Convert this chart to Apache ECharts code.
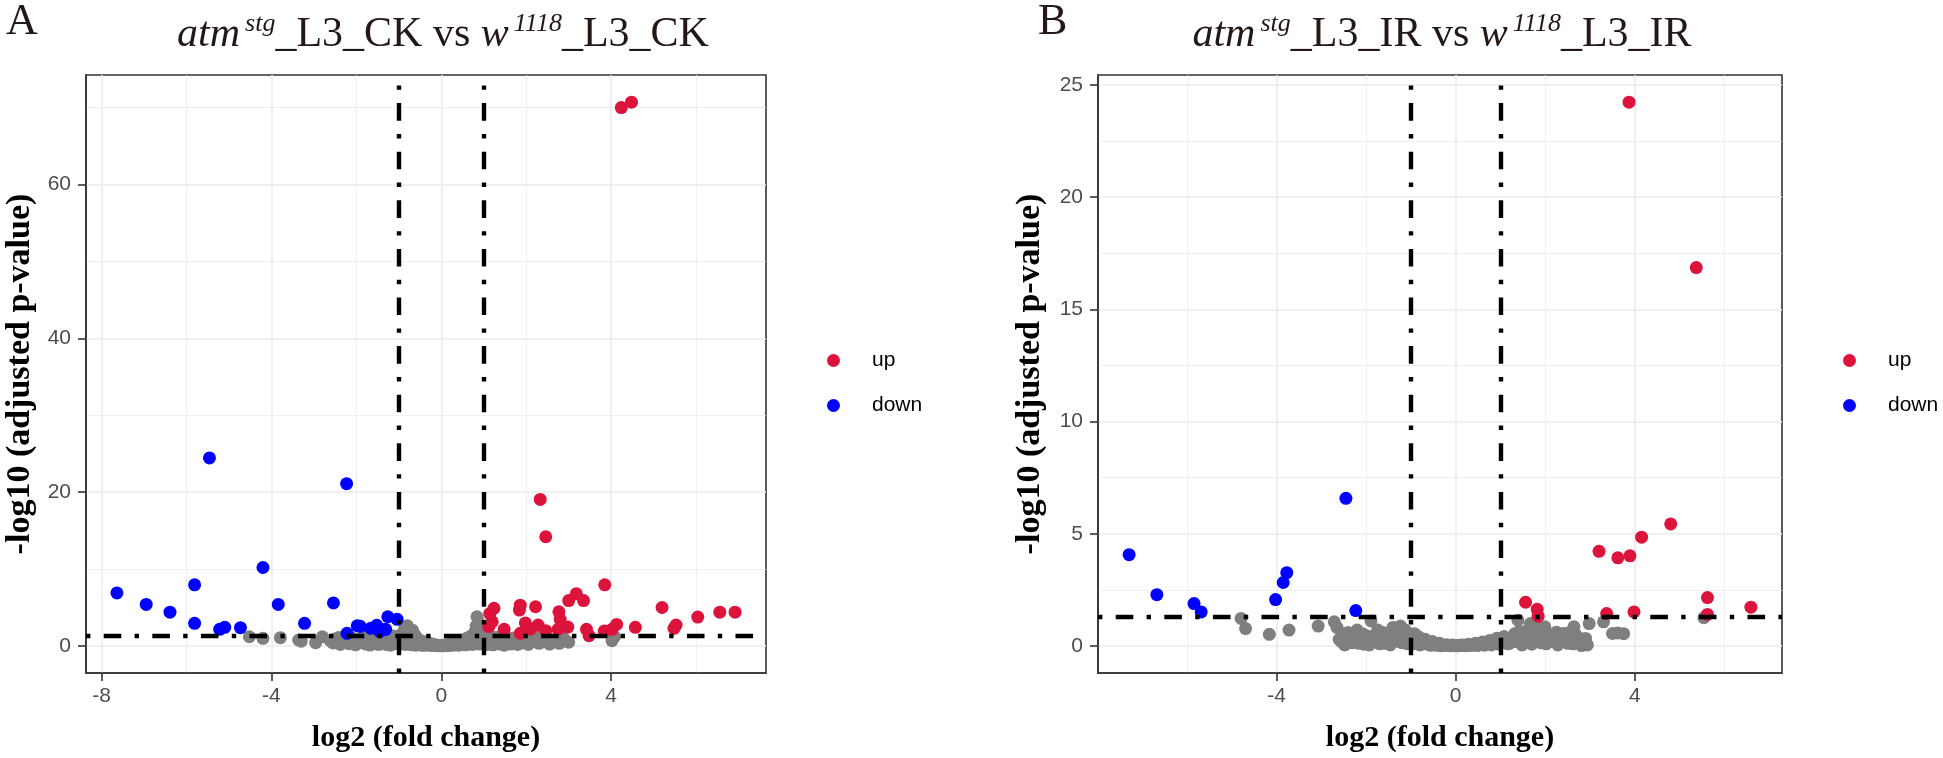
<!DOCTYPE html>
<html>
<head>
<meta charset="utf-8">
<script src="https://cdn.jsdelivr.net/npm/echarts@6/dist/echarts.min.js"></script>
<style>html,body{margin:0;padding:0;background:#fff}#c{width:1943px;height:758px}</style>
</head>
<body>
<div id="c"></div>
<script>
// ---------- Panel A data: [log2FC, -log10 padj] ----------
const aUp = [[4.24,70.0],[4.48,70.7],[2.33,19.05],[2.46,14.2],[3.85,7.95],[3.18,6.8],[3.0,5.9],[3.35,5.9],[1.86,5.3],[1.84,4.67],[2.22,5.1],[1.24,4.9],[1.14,4.2],[2.77,4.45],[2.8,3.46],[5.2,5.0],[6.56,4.4],[6.92,4.4],[6.04,3.76],[5.53,2.72],[5.48,2.29],[4.57,2.42],[4.13,2.8],[4.02,2.16],[3.84,1.94],[3.42,2.16],[3.48,1.34],[2.98,2.46],[2.75,2.16],[2.46,1.99],[1.98,3.0],[2.28,2.72],[1.48,2.16],[1.2,3.15],[1.86,1.64],[1.12,2.5],[2.1,2.2]];
const aDown = [[-7.64,6.9],[-6.95,5.4],[-6.39,4.4],[-5.81,7.95],[-5.81,2.94],[-5.46,24.45],[-5.22,2.16],[-5.1,2.42],[-4.73,2.38],[-4.2,10.2],[-3.84,5.4],[-3.22,2.94],[-2.54,5.6],[-2.23,21.1],[-2.22,1.64],[-1.98,2.63],[-1.91,2.55],[-1.66,2.29],[-1.52,2.68],[-1.26,3.8],[-1.04,3.46],[-1.31,2.16],[-1.45,1.9]];
const aNo = [[-4.52,1.2],[-4.2,1.0],[-3.79,1.08],[-3.36,0.78],[-3.3,0.62],[-2.96,0.43],[-2.8,1.2],[-2.62,0.72],[-2.46,0.56],[-2.35,0.35],[-2.3,0.65],[-2.2,0.92],[-2.12,0.48],[-2.05,0.3],[-2.0,0.8],[-1.92,0.42],[-1.85,1.12],[-1.78,0.25],[-1.72,0.62],[-1.65,0.95],[-1.58,0.38],[-1.52,0.52],[-1.46,1.22],[-1.4,0.28],[-1.34,0.72],[-1.28,0.18],[-1.22,1.02],[-1.17,0.42],[-1.12,1.3],[-1.07,0.62],[-1.02,0.88],[-0.98,0.22],[-0.94,1.52],[-0.9,0.45],[-0.86,2.3],[-0.82,1.05],[-0.8,2.62],[-0.76,1.18],[-0.72,0.38],[-0.68,2.05],[-0.65,0.72],[-0.62,1.42],[-0.58,0.25],[-0.55,0.92],[-0.51,0.48],[-0.47,0.12],[-0.44,0.62],[-0.4,0.3],[-0.36,0.15],[-0.32,0.45],[-0.28,0.08],[-0.24,0.28],[-0.2,0.05],[-0.16,0.18],[-0.12,0.04],[-0.08,0.1],[-0.04,0.02],[0,0.05],[0.04,0.02],[0.08,0.12],[0.12,0.04],[0.16,0.2],[0.2,0.06],[0.24,0.3],[0.28,0.1],[0.32,0.42],[0.36,0.15],[0.4,0.55],[0.44,0.22],[0.48,0.7],[0.52,0.32],[0.56,0.9],[0.6,0.4],[0.64,1.1],[0.68,0.5],[0.72,1.35],[0.76,0.62],[0.8,1.9],[0.82,2.6],[0.84,3.8],[0.86,1.05],[0.88,3.1],[0.9,1.5],[0.93,0.72],[0.96,2.2],[0.99,0.35],[1.02,1.25],[1.06,0.55],[1.1,1.05],[1.15,0.3],[1.2,0.82],[1.26,0.5],[1.32,1.15],[1.38,0.25],[1.45,0.7],[1.52,0.45],[1.6,0.95],[1.68,0.3],[1.76,0.62],[1.84,1.1],[1.92,0.4],[2.0,0.78],[2.1,0.52],[2.2,0.95],[2.3,0.35],[2.4,0.7],[2.46,0.56],[2.6,0.42],[2.72,0.88],[2.82,0.6],[2.92,0.69],[4.02,0.69],[4.08,1.2],
  [-2.55,0.4],[-2.5,0.9],[-2.42,1.1],[-2.38,0.2],[-2.27,1.15],[-2.18,0.3],[-2.1,1.05],[-2.02,0.15],[-1.95,0.65],[-1.88,0.9],[-1.8,0.45],[-1.75,1.25],[-1.68,0.12],[-1.62,0.75],[-1.55,1.05],[-1.48,0.2],[-1.42,0.6],[-1.36,1.0],[-1.3,0.45],[-1.25,0.8],[-1.2,0.1],[-1.14,0.68],[-1.09,0.3],[-1.04,1.15],[-1.0,0.5],[-0.96,0.75],[-0.92,1.25],[-0.88,0.6],[-0.84,0.2],[-0.78,0.85],[-0.74,1.6],[-0.7,0.15],[-0.66,0.55],[-0.6,0.1],[-0.56,0.4],[-0.5,0.18],[-0.45,0.3],[-0.42,0.08],[-0.34,0.32],[-0.26,0.2],[-0.18,0.12],[-0.1,0.06],[-0.02,0.1],[0.06,0.08],[0.14,0.12],[0.22,0.18],[0.3,0.25],[0.38,0.35],[0.42,0.1],[0.46,0.45],[0.5,0.2],[0.54,0.55],[0.58,0.15],[0.62,0.7],[0.66,0.3],[0.7,0.85],[0.74,0.2],[0.78,1.1],[0.82,0.45],[0.86,1.6],[0.9,0.25],[0.94,1.2],[0.98,0.6],[1.04,0.9],[1.08,0.2],[1.12,0.6],[1.18,1.2],[1.22,0.15],[1.28,0.95],[1.35,0.4],[1.42,1.2],[1.48,0.1],[1.55,0.75],[1.62,0.25],[1.7,1.05],[1.8,0.2],[1.88,0.85],[1.96,0.55],[2.05,0.2],[2.15,0.7],[2.25,1.1],[2.35,0.5],[2.5,0.9],[2.55,0.25],[2.65,0.65],[2.78,0.35],[2.88,1.0],[3.0,0.5]];

// ---------- Panel B data ----------
const bUp = [[3.87,24.23],[5.37,16.86],[4.8,5.44],[4.15,4.85],[3.2,4.22],[3.62,3.93],[3.89,4.02],[5.62,2.16],[6.59,1.73],[5.62,1.41],[1.56,1.95],[1.82,1.64],[1.84,1.33],[3.37,1.45],[3.98,1.52]];
const bDown = [[-7.29,4.07],[-6.67,2.29],[-5.84,1.89],[-5.68,1.52],[-4.02,2.07],[-3.85,2.83],[-3.77,3.27],[-2.45,6.58],[-2.23,1.58]];
const bNo = [[-4.79,1.23],[-4.69,0.78],[-4.16,0.52],[-3.72,0.71],[-3.07,0.89],[-2.71,1.08],[-2.65,0.83],[-2.55,0.2],[-2.45,0.1],[-2.38,0.35],[-2.3,0.15],[-2.2,0.71],[-2.12,0.28],[-2.05,0.08],[-1.97,0.45],[-1.89,1.12],[-1.82,0.2],[-1.74,0.71],[-1.66,0.32],[-1.58,0.12],[-1.5,0.5],[-1.4,0.83],[-1.32,0.22],[-1.23,0.89],[-1.15,0.4],[-1.08,0.1],[-1.0,0.3],[-0.92,0.55],[-0.83,0.41],[-0.76,0.15],[-0.68,0.3],[-0.6,0.06],[-0.52,0.2],[-0.44,0.04],[-0.36,0.12],[-0.28,0.02],[-0.2,0.06],[-0.12,0.01],[-0.04,0.03],[0.04,0.01],[0.12,0.04],[0.2,0.02],[0.28,0.08],[0.36,0.03],[0.44,0.12],[0.52,0.05],[0.6,0.18],[0.68,0.08],[0.76,0.25],[0.84,0.12],[0.92,0.35],[1.0,0.18],[1.08,0.42],[1.16,0.1],[1.24,0.3],[1.32,0.55],[1.39,1.15],[1.45,0.22],[1.52,0.4],[1.6,0.7],[1.67,1.0],[1.74,0.3],[1.82,0.55],[1.9,0.15],[1.99,0.86],[2.08,0.4],[2.16,0.2],[2.25,0.62],[2.33,0.3],[2.41,0.56],[2.5,0.12],[2.58,0.38],[2.64,0.86],[2.72,0.2],[2.81,0.02],[2.9,0.34],[2.98,1.0],[3.3,1.08],[3.5,0.56],[3.62,0.58],[3.75,0.55],[5.54,1.26],
  [-2.6,0.3],[-2.52,0.55],[-2.48,0.05],[-2.4,0.6],[-2.34,0.2],[-2.26,0.45],[-2.16,0.12],[-2.08,0.55],[-2.0,0.25],[-1.93,0.05],[-1.86,0.35],[-1.78,0.5],[-1.7,0.1],[-1.62,0.6],[-1.54,0.25],[-1.46,0.05],[-1.36,0.4],[-1.28,0.6],[-1.2,0.15],[-1.12,0.7],[-1.04,0.25],[-0.96,0.1],[-0.88,0.2],[-0.8,0.05],[-0.72,0.1],[-0.64,0.2],[-0.56,0.03],[-0.48,0.1],[-0.4,0.05],[-0.32,0.01],[-0.24,0.04],[-0.16,0.02],[-0.08,0.05],[0,0.01],[0.08,0.03],[0.16,0.05],[0.24,0.01],[0.32,0.04],[0.4,0.07],[0.48,0.02],[0.56,0.1],[0.64,0.04],[0.72,0.14],[0.8,0.05],[0.88,0.2],[0.96,0.08],[1.04,0.25],[1.12,0.3],[1.2,0.12],[1.28,0.4],[1.36,0.2],[1.42,0.65],[1.48,0.05],[1.56,0.25],[1.64,0.45],[1.7,0.08],[1.78,0.35],[1.86,0.8],[1.94,0.3],[2.02,0.1],[2.12,0.5],[2.2,0.35],[2.28,0.05],[2.36,0.45],[2.46,0.25],[2.54,0.6],[2.62,0.1],[2.68,0.5],[2.76,0.35],[2.85,0.15],[2.94,0.05]];

// ---------- tick values ----------
const aXMajor = [-8, -4, 0, 4];
const aXMinor = [-6, -2, 2, 6];
const aYMajor = [0, 20, 40, 60];
const aYMinor = [10, 30, 50, 70];
const bXMajor = [-4, 0, 4];
const bXMinor = [-6, -2, 2, 6];
const bYMajor = [0, 5, 10, 15, 20, 25];
const bYMinor = [2.5, 7.5, 12.5, 17.5, 22.5];

// thresholds
const fcCut = [-1, 1];
const pCut = -Math.log10(0.05);

const RED = '#DC143C', BLUE = '#0000FF', GREY = '#7F7F7F';
const SANS = 'Liberation Sans';
const SERIF = 'Liberation Serif';

function extentOf(arrs, idx) {
  let lo = Infinity, hi = -Infinity;
  arrs.forEach(a => a.forEach(p => { lo = Math.min(lo, p[idx]); hi = Math.max(hi, p[idx]); }));
  const d = (hi - lo) * 0.05;
  return [lo - d, hi + d];
}
const aXR = extentOf([aUp, aDown, aNo], 0), aYR = extentOf([aUp, aDown, aNo], 1);
const bXR = extentOf([bUp, bDown, bNo], 0), bYR = extentOf([bUp, bDown, bNo], 1);

const tickLine = {color: '#333333', width: 1.6};
const lblStyle = {color: '#4D4D4D', fontFamily: SANS, fontSize: 21};
const nameStyle = {color: '#000', fontFamily: SERIF, fontWeight: 'bold'};

function majorAxis(grid, range, major, isX, extra) {
  return Object.assign({
    type: 'value', gridIndex: grid, min: range[0], max: range[1],
    axisLine: {show: true, onZero: false, lineStyle: tickLine},
    axisTick: {show: true, length: 8, customValues: major, lineStyle: tickLine},
    axisLabel: Object.assign({customValues: major, margin: isX ? 13 : 15}, lblStyle),
    splitLine: {show: true, lineStyle: {color: '#EBEBEB', width: 1.6}}
  }, extra);
}
function minorAxis(grid, range, minor) {
  return {
    type: 'value', gridIndex: grid, min: range[0], max: range[1],
    axisLine: {show: false}, axisLabel: {show: false},
    axisTick: {show: false, customValues: minor},
    splitLine: {show: true, lineStyle: {color: '#EBEBEB', width: 0.8}}
  };
}

const dash = [4.4, 13.3, 17.6, 13.3];
function threshSeries(xi, yi) {
  return {
    type: 'scatter', xAxisIndex: xi, yAxisIndex: yi, data: [], silent: true,
    markLine: {
      silent: true, symbol: ['none', 'none'], label: {show: false}, animation: false,
      lineStyle: {color: '#000', width: 4.4, type: dash, opacity: 1},
      emphasis: {disabled: true},
      data: [{xAxis: fcCut[0]}, {xAxis: fcCut[1]}, {yAxis: pCut}]
    }
  };
}
function pts(name, data, color, xi, yi) {
  return {name, type: 'scatter', xAxisIndex: xi, yAxisIndex: yi, data, symbolSize: 13,
    itemStyle: {color, opacity: 1}, animation: false, emphasis: {disabled: true}};
}

const titleRich = {
  i: {fontFamily: SERIF, fontStyle: 'italic', fontWeight: 'normal', fontSize: 42, color: '#231815', lineHeight: 48},
  s: {fontFamily: SERIF, fontStyle: 'italic', fontWeight: 'normal', fontSize: 26, color: '#231815', lineHeight: 26, verticalAlign: 'top', padding: [0, 0, 0, 5]},
  n: {fontFamily: SERIF, fontWeight: 'normal', fontSize: 42, color: '#231815', lineHeight: 48}
};

const chart = echarts.init(document.getElementById('c'), null, {renderer: 'canvas'});
chart.setOption({
  backgroundColor: '#fff',
  animation: false,
  title: [
    {text: 'A', left: 6, top: 0, padding: 0, textStyle: {fontFamily: SERIF, fontWeight: 'normal', fontSize: 44, color: '#231815'}},
    {text: 'B', left: 1038, top: 0, padding: 0, textStyle: {fontFamily: SERIF, fontWeight: 'normal', fontSize: 44, color: '#231815'}},
    {text: '{i|atm}{s|stg}{n|_L3_CK vs }{i|w}{s|1118}{n|_L3_CK}', left: 443, top: 11, padding: 0, textAlign: 'center', textStyle: {fontWeight: 'normal', rich: titleRich}},
    {text: '{i|atm}{s|stg}{n|_L3_IR vs }{i|w}{s|1118}{n|_L3_IR}', left: 1442, top: 11, padding: 0, textAlign: 'center', textStyle: {fontWeight: 'normal', rich: titleRich}}
  ],
  legend: [
    {data: ['up', 'down'], orient: 'vertical', left: 827, top: 350, padding: 0, itemGap: 24,
     icon: 'circle', itemWidth: 13, itemHeight: 13, selectedMode: false,
     textStyle: {fontFamily: SANS, fontSize: 21, color: '#000', padding: [0, 0, 0, 27]}},
    {data: ['up', 'down'], orient: 'vertical', left: 1843, top: 350, padding: 0, itemGap: 24,
     icon: 'circle', itemWidth: 13, itemHeight: 13, selectedMode: false,
     textStyle: {fontFamily: SANS, fontSize: 21, color: '#000', padding: [0, 0, 0, 27]}}
  ],
  grid: [
    {left: 86, top: 75, width: 680, height: 601, show: true, borderColor: '#333333', borderWidth: 1.6, backgroundColor: '#fff'},
    {left: 1098, top: 75, width: 684, height: 601, show: true, borderColor: '#333333', borderWidth: 1.6, backgroundColor: '#fff'}
  ],
  xAxis: [
    majorAxis(0, aXR, aXMajor, true, {name: 'log2 (fold change)', nameLocation: 'middle', nameGap: 50, nameTextStyle: Object.assign({fontSize: 30}, nameStyle)}),
    minorAxis(0, aXR, aXMinor),
    majorAxis(1, bXR, bXMajor, true, {name: 'log2 (fold change)', nameLocation: 'middle', nameGap: 50, nameTextStyle: Object.assign({fontSize: 30}, nameStyle)}),
    minorAxis(1, bXR, bXMinor)
  ],
  yAxis: [
    majorAxis(0, aYR, aYMajor, false, {name: '-log10 (adjusted p-value)', nameLocation: 'middle', nameRotate: 90, nameGap: 49, nameTextStyle: Object.assign({fontSize: 34}, nameStyle)}),
    minorAxis(0, aYR, aYMinor),
    majorAxis(1, bYR, bYMajor, false, {name: '-log10 (adjusted p-value)', nameLocation: 'middle', nameRotate: 90, nameGap: 51, nameTextStyle: Object.assign({fontSize: 34}, nameStyle)}),
    minorAxis(1, bYR, bYMinor)
  ],
  series: [
    pts('no', aNo, GREY, 0, 0),
    pts('up', aUp, RED, 0, 0),
    pts('down', aDown, BLUE, 0, 0),
    threshSeries(0, 0),
    pts('no', bNo, GREY, 2, 2),
    pts('up', bUp, RED, 2, 2),
    pts('down', bDown, BLUE, 2, 2),
    threshSeries(2, 2)
  ]
});
</script>
</body>
</html>
